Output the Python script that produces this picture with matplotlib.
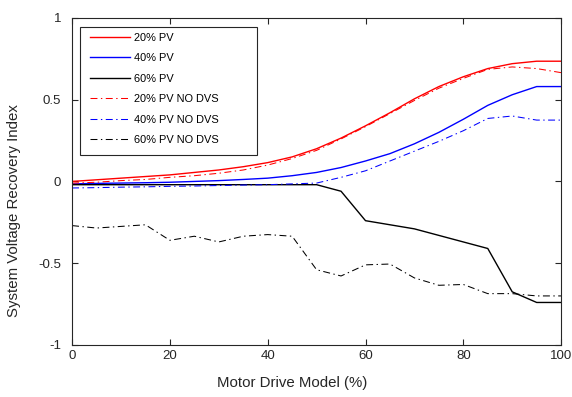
import matplotlib
matplotlib.use('Agg')
import matplotlib.pyplot as plt
import matplotlib.patches as patches
import numpy as np

plt.rcParams['font.family'] = ['Liberation Sans', 'DejaVu Sans']
plt.rcParams['lines.scale_dashes'] = False

# Motor drive share (%)
x = np.arange(0, 101, 5)

# series
pv20 = [0.00, 0.01, 0.02, 0.03, 0.04, 0.055, 0.07, 0.09, 0.115, 0.15, 0.20,
        0.265, 0.34, 0.42, 0.505, 0.58, 0.64, 0.69, 0.72, 0.735, 0.735]
pv40 = [-0.015, -0.012, -0.01, -0.008, -0.005, 0.0, 0.005, 0.012, 0.02, 0.035, 0.055,
        0.085, 0.125, 0.17, 0.23, 0.30, 0.38, 0.465, 0.53, 0.58, 0.58]
pv60 = [-0.02, -0.02, -0.02, -0.02, -0.02, -0.02, -0.02, -0.02, -0.02, -0.02, -0.02,
        -0.06, -0.24, -0.265, -0.29, -0.33, -0.37, -0.41, -0.675, -0.74, -0.74]
pv20_nodvs = [-0.01, -0.005, 0.005, 0.012, 0.025, 0.035, 0.05, 0.07, 0.10, 0.14, 0.19,
              0.26, 0.335, 0.415, 0.495, 0.57, 0.63, 0.685, 0.70, 0.69, 0.665]
pv40_nodvs = [-0.04, -0.038, -0.035, -0.033, -0.03, -0.028, -0.025, -0.022, -0.02, -0.015, -0.01,
              0.025, 0.065, 0.125, 0.185, 0.245, 0.31, 0.385, 0.40, 0.375, 0.375]
pv60_nodvs = [-0.27, -0.285, -0.275, -0.265, -0.36, -0.335, -0.37, -0.335, -0.325, -0.335, -0.54,
              -0.578, -0.51, -0.505, -0.59, -0.635, -0.63, -0.686, -0.686, -0.70, -0.70]

fig = plt.figure(figsize=(5.72, 3.97), dpi=100)
ax = fig.add_axes([0.126, 0.131, 0.855, 0.824])

dd = (5, 2.5, 1, 2.5)  # matlab-like dash-dot
ax.plot(x, pv20, color='#ff0000', lw=1.0, label='20% PV')
ax.plot(x, pv40, color='#0000ff', lw=1.0, label='40% PV')
ax.plot(x, pv60, color='black', lw=1.0, label='60% PV')
ax.plot(x, pv20_nodvs, color='#ff0000', lw=0.75, dashes=dd, label='20% PV NO DVS')
ax.plot(x, pv40_nodvs, color='#0000ff', lw=0.75, dashes=dd, label='40% PV NO DVS')
ax.plot(x, pv60_nodvs, color='black', lw=0.75, dashes=dd, label='60% PV NO DVS')

ax.set_xlim(0, 100)
ax.set_ylim(-1, 1)
ax.set_xticks([0, 20, 40, 60, 80, 100])
ax.set_yticks([-1, -0.5, 0, 0.5, 1])
ax.set_yticklabels(['-1', '-0.5', '0', '0.5', '1'])
ax.tick_params(direction='in', top=True, right=True, length=4, labelsize=9.5, colors='#262626')
ax.tick_params(axis='y', pad=8)
for s in ax.spines.values():
    s.set_color('#262626')
    s.set_linewidth(0.8)

ax.set_xlabel('Motor Drive Model (%)', fontsize=10.8, color='#262626')
ax.set_ylabel('System Voltage Recovery Index', fontsize=10.8, color='#262626')
ax.xaxis.set_label_coords(0.45, -0.095)
ax.yaxis.set_label_coords(-0.105, 0.41)

# legend box (matlab leaves a wide margin on the right)
ax.add_patch(patches.Rectangle((0.016, 0.58), 0.362, 0.392, transform=ax.transAxes,
                               facecolor='white', edgecolor='#262626', lw=0.8, zorder=4))
leg = ax.legend(loc='upper left', bbox_to_anchor=(0.037, 0.955), fontsize=7.9,
                handlelength=3.65, handletextpad=0.3, labelspacing=0.96,
                borderaxespad=0, borderpad=0, frameon=False)
leg.set_zorder(5)

fig.savefig('out.png', dpi=100)
